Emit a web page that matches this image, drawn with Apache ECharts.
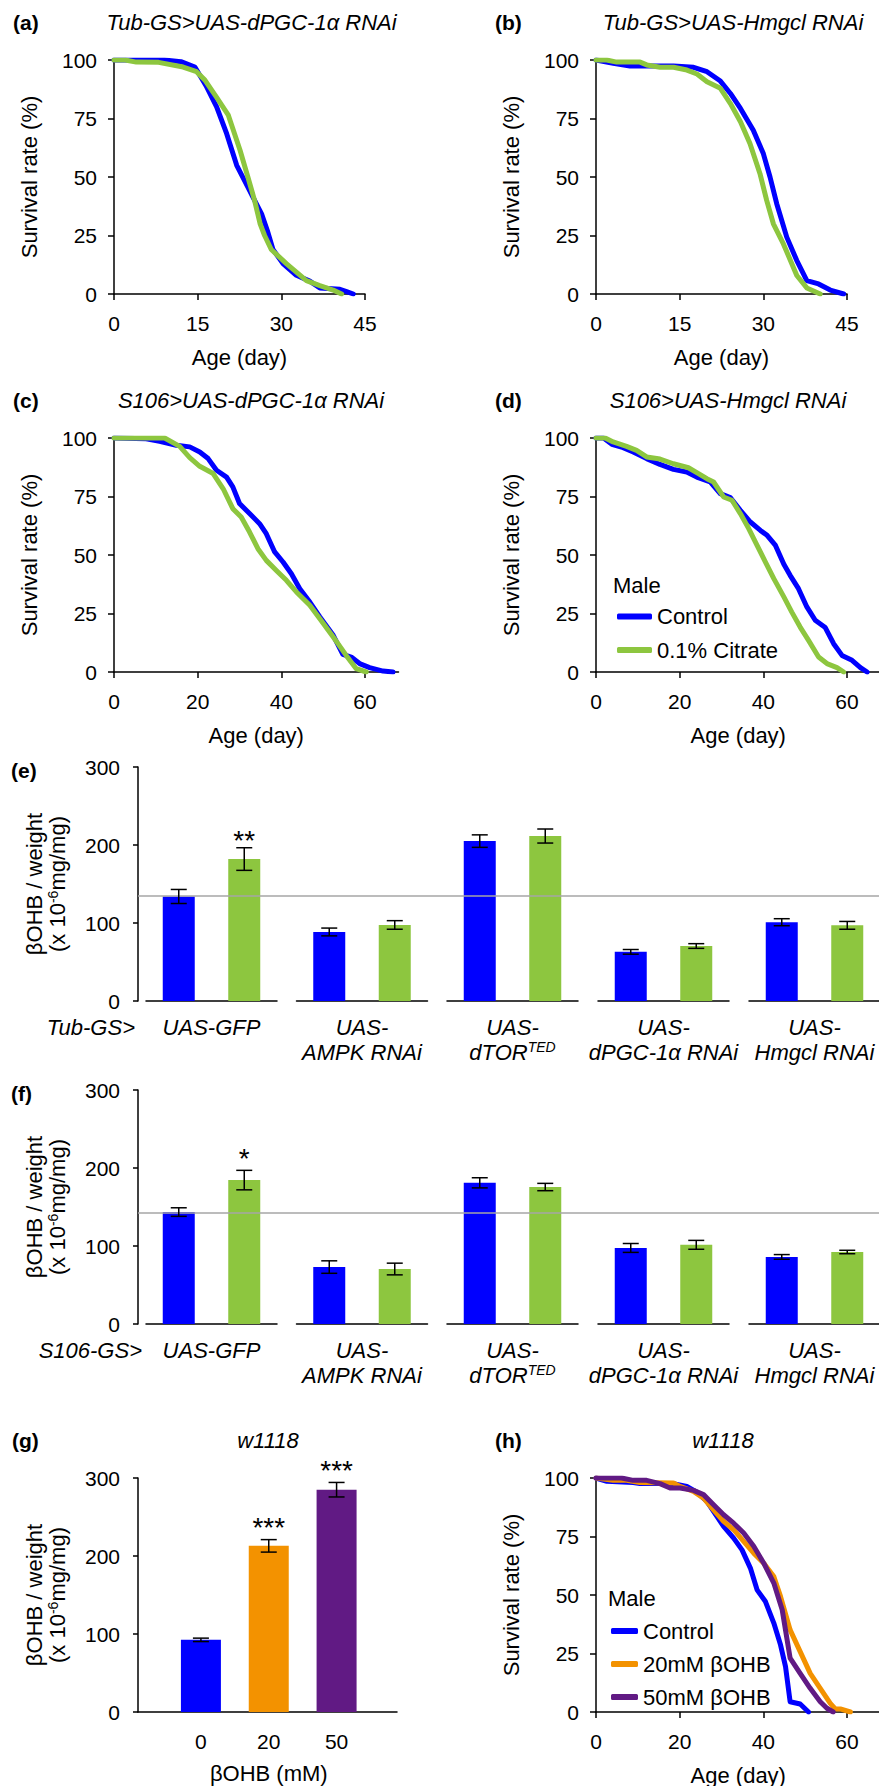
<!DOCTYPE html>
<html><head><meta charset="utf-8">
<script src="https://cdn.jsdelivr.net/npm/echarts@6/dist/echarts.min.js"></script>
<style>html,body{margin:0;padding:0;background:#fff}#c{width:879px;height:1786px}</style>
</head><body><div id="c"></div>
<script>
// ---------------- DATA ----------------
// Survival curves: [day, survival %]
const aControl = [[0,100],[9,100],[12,99.3],[14.5,97],[16.5,89],[18.4,80],[20.2,68.5],[22,55],[23.5,48],[25,41],[26.5,34],[27.5,27],[28.5,19],[30.3,13],[32.7,8],[35.1,5.5],[36.9,2.6],[40.5,2],[41.7,1],[42.9,0]];
const aCitrate = [[0,100],[2,100],[4,99.1],[8,99],[12.4,97],[14.8,95],[16.3,91.4],[18.4,84],[20.5,76.4],[22.6,61.4],[24,50],[25.2,40],[26.2,30],[27,25],[28.2,19],[30.9,13],[34.5,5.7],[36.9,3.6],[39.3,1.7],[40.8,0]];
const bControl = [[0,100],[3.1,98.6],[6.1,97.4],[13.9,97.4],[17.5,96.9],[19.9,95],[22.3,91],[24.1,85.7],[25.9,79.3],[28.2,70],[30,60],[31.2,50],[32.4,38.6],[34.2,24.3],[36,14.3],[37.8,5.7],[39.9,4.3],[42,1.7],[44.4,0]];
const bCitrate = [[0,100],[1.9,100],[3.7,99.1],[7.9,99.1],[9.1,97.9],[11.5,96.9],[13.9,96.9],[16.3,95.7],[18.1,94],[19.9,90.7],[22.3,87.9],[24.1,81.4],[25.9,73.6],[27.6,64.3],[29.4,51.4],[30.6,40],[31.8,30],[33.6,21.4],[36,7.9],[37.8,2.6],[40.2,0]];
const cControl = [[0,100],[7.7,99.7],[10.9,98.6],[14.9,96.9],[18.1,96.2],[20.5,94],[22.5,91.2],[24.5,86.2],[26.9,83.3],[28.4,79.1],[30,72],[32.4,67.7],[34.8,63.4],[36.4,59.1],[38.4,51.3],[40.4,47],[42.4,42],[44.4,35.6],[46.8,29.9],[49.2,23.5],[52.4,15.7],[54.7,7.5],[56.7,6.4],[58.7,3.6],[61.1,1.9],[64.3,0.4],[66.7,0]];
const cCitrate = [[0,100],[12.1,100],[15.7,96.4],[18.1,91.6],[20.5,87.9],[23.7,84.8],[26.1,78.3],[28.4,69.8],[30.4,66.2],[32.4,59.8],[34.4,52.7],[36.4,47.7],[38.8,43.4],[41.2,39.2],[43.6,34.2],[46.8,28.5],[49.2,22.8],[52.4,15],[55.5,7.1],[57.9,1.4],[60.3,0]];
const dControl = [[0,100],[1.8,100],[3.8,97.3],[6.5,95.9],[8.9,94],[12.1,91.2],[15.3,88.7],[18.5,86.6],[21.7,85.5],[24.1,83.3],[27.3,81.2],[29.7,76.2],[32.1,74.5],[34.5,69.1],[36.9,64.1],[39.3,60.5],[40.9,58.4],[42.9,54.1],[44.9,46],[46.4,41.3],[48.4,35.6],[50.4,27.8],[52.4,22.1],[54.8,19],[56.8,12.1],[58.8,7.1],[61.2,5],[63.2,1.9],[64.8,0]];
const dCitrate = [[0,100],[2.2,100],[4.1,98.3],[7.3,96.4],[9.7,94.7],[12.1,91.9],[15.3,91],[18.5,89],[22.1,87.3],[24.5,84.8],[26.5,82.6],[28.1,81.2],[30.5,74.8],[32.5,73.4],[34.5,67.7],[36.5,61.3],[38.5,54.1],[40.5,47],[42.5,39.9],[44.9,32.1],[46.8,25.6],[48.8,19.2],[50.8,13.5],[53.2,6.4],[55.2,3.6],[57.6,1.9],[59.2,0]];
const hControl = [[0,100],[2.6,98.6],[8.9,98.1],[10.5,97.6],[18.5,97.6],[21.7,96.4],[24.1,93.9],[26.5,90],[28.9,83.6],[30.5,79.3],[32.9,74.3],[34.9,69.3],[36.9,61.5],[38.5,52.2],[40.5,47.2],[42.5,38],[44.1,28.7],[45.3,19.4],[46.4,4.4],[48.8,3.4],[50.8,0]];
const h20mM = [[0,100],[4.1,99],[7.3,99],[10.5,98.1],[18.5,97.9],[20.1,96.4],[23.3,94.3],[25.7,91.4],[28.1,86.4],[30.5,81.5],[32.9,77.9],[35.3,72.9],[37.7,67.9],[40.1,63.6],[42.5,57.9],[44.1,49.4],[46.4,35.1],[48.8,25.8],[51.2,16.5],[53.6,10.1],[56,3.7],[57.2,1.3],[58.4,1.3],[60.8,0]];
const h50mM = [[0,100],[6.1,100],[8.9,99],[12.1,99],[15.3,97.6],[17.7,95.7],[20.1,95.7],[23.3,94.7],[25.7,92.9],[28.1,88.6],[30.5,84.3],[32.9,80.7],[35.3,76.5],[37.7,70.8],[40.1,63.6],[42.5,55.1],[44.5,43.7],[46.4,23],[48.8,16.5],[51.2,10.1],[53.6,4.4],[55.2,1.6],[56.7,0]];

// Bar panels (e), (f)
const groupLabels = ['UAS-GFP', 'UAS-\nAMPK RNAi', 'UAS-\ndTOR{sup|TED}', 'UAS-\ndPGC-1α RNAi', 'UAS-\nHmgcl RNAi'];
const eControl = [134, 88.5, 205, 63, 101];
const eControlErr = [9, 5, 8, 3, 4.5];
const eCitrate = [182, 97.5, 211.5, 70.5, 97];
const eCitrateErr = [14.5, 5.5, 9, 3, 5];
const eSig = ['**', '', '', '', ''];
const eRef = 135;
const fControl = [143.5, 73, 181, 97.5, 86];
const fControlErr = [5.5, 8, 6.5, 5.7, 3];
const fCitrate = [184.5, 70.5, 175.6, 101.5, 92.3];
const fCitrateErr = [12.5, 7.5, 4.7, 5.7, 2.2];
const fSig = ['*', '', '', '', ''];
const fRef = 143;
// Panel (g)
const gDoses = ['0', '20', '50'];
const gValues = [92.5, 213, 285];
const gErr = [2.2, 8, 9.3];
const gSig = ['', '***', '***'];

// ---------------- STYLE ----------------
const FONT = '"Liberation Sans", Arial, Helvetica, sans-serif';
const FS = 22, TFS = 21;
const BLUE = '#0000FF', GREEN = '#8DC63F', ORANGE = '#F39200', PURPLE = '#611A84';
const AX = {color:'#000', width:1.5};
const grids = [], xAxes = [], yAxes = [], series = [], graphics = [], legends = [];

function addGrid(g){ grids.push(Object.assign({containLabel:false, outerBoundsMode:'none'}, g)); return grids.length - 1; }
function txt(x, y, text, o){
  o = o || {};
  graphics.push({type:'text', x:x, y:y, silent:true, z:100, style:{text:text, fill:'#000', fontSize:o.size||FS, fontFamily:FONT,
    fontStyle:o.italic?'italic':'normal', fontWeight:o.bold?'bold':'normal', align:o.align||'left', verticalAlign:'middle'}});
}

function survival(p){
  const gi = addGrid({left:p.left, top:p.top, width:p.width, height:234});
  xAxes.push({gridIndex:gi, type:'value', min:0, max:p.xmax, axisLine:{show:true, lineStyle:AX},
    axisTick:{show:true, length:6, lineStyle:AX, customValues:p.ticks},
    axisLabel:{customValues:p.ticks, color:'#000', fontSize:TFS, fontFamily:FONT, margin:19},
    splitLine:{show:false}, name:'Age (day)', nameLocation:'middle', nameGap:63, nameMoveOverlap:false,
    nameTextStyle:{color:'#000', fontSize:FS, fontFamily:FONT, verticalAlign:'middle'}});
  yAxes.push({gridIndex:gi, type:'value', min:0, max:100, interval:25, axisLine:{show:true, lineStyle:AX},
    axisTick:{show:true, length:6, lineStyle:AX},
    axisLabel:{color:'#000', fontSize:TFS, fontFamily:FONT, margin:17},
    splitLine:{show:false}, name:'Survival rate (%)', nameLocation:'middle', nameGap:85, nameMoveOverlap:false,
    nameTextStyle:{color:'#000', fontSize:FS, fontFamily:FONT, verticalAlign:'middle'}});
  p.lines.forEach(l => series.push({type:'line', name:l.name, xAxisIndex:xAxes.length-1, yAxisIndex:yAxes.length-1,
    data:l.data, symbol:'none', showSymbol:false, lineStyle:{color:l.color, width:5, cap:'round', join:'round'},
    itemStyle:{color:l.color}, z:3}));
}

function errSeries(xi, yi, vals, errs, sig, sigOff){
  series.push({type:'custom', xAxisIndex:xi, yAxisIndex:yi, z:6, encode:{x:0, y:1},
    data: vals.map((v,k) => [k, v, errs[k]]),
    renderItem: function(params, api){
      const k = api.value(0), m = api.value(1), e = api.value(2);
      const t = api.coord([k, m + e]), b = api.coord([k, m - e]);
      const hw = 8, st = {stroke:'#000', lineWidth:1.5};
      const ch = [
        {type:'line', shape:{x1:t[0], y1:t[1], x2:b[0], y2:b[1]}, style:st},
        {type:'line', shape:{x1:t[0]-hw, y1:t[1], x2:t[0]+hw, y2:t[1]}, style:st},
        {type:'line', shape:{x1:b[0]-hw, y1:b[1], x2:b[0]+hw, y2:b[1]}, style:st}
      ];
      const s = sig[params.dataIndex];
      if (s) ch.push({type:'text', x:t[0], y:t[1]-sigOff, style:{text:s, fill:'#000', fontSize:28, fontFamily:FONT, align:'center', verticalAlign:'middle'}});
      return {type:'group', children:ch};
    }});
}

const yNameBar = '{a|βOHB / weight}\n{a|(x 10}{s|-6}{a|mg/mg)}';
const yNameRich = {a:{fontSize:FS, fontFamily:FONT, color:'#000', lineHeight:23}, s:{fontSize:14, fontFamily:FONT, color:'#000', verticalAlign:'top', lineHeight:23}};

function barYAxis(gi){
  yAxes.push({gridIndex:gi, type:'value', min:0, max:300, interval:100, axisLine:{show:true, lineStyle:AX},
    axisTick:{show:true, length:5, lineStyle:AX},
    axisLabel:{color:'#000', fontSize:TFS, fontFamily:FONT, margin:18},
    splitLine:{show:false}, name:yNameBar, nameLocation:'middle', nameGap:92, nameMoveOverlap:false,
    nameTextStyle:{verticalAlign:'middle', rich:yNameRich}});
}

function barPanel(p){
  const bg = addGrid({left:138, top:p.top, width:741, height:234});
  xAxes.push({gridIndex:bg, type:'value', min:0, max:1, show:false});
  barYAxis(bg);
  series.push({type:'line', xAxisIndex:xAxes.length-1, yAxisIndex:yAxes.length-1, data:[], z:5,
    markLine:{silent:true, symbol:'none', label:{show:false}, animation:false,
      lineStyle:{color:'#a6a6a6', width:1.5, type:'solid'}, data:[{yAxis:p.ref}]}});
  const lefts = [146, 296.5, 447, 598, 749];
  groupLabels.forEach((g, i) => {
    const gi = addGrid({left:lefts[i], top:p.top, width:131, height:234});
    xAxes.push({gridIndex:gi, type:'category', data:['Control', '0.1% Citrate'], axisLine:{show:true, lineStyle:AX},
      axisTick:{show:false}, axisLabel:{show:false}, name:g, nameLocation:'middle', nameGap:13.5, nameMoveOverlap:false,
      nameTextStyle:{color:'#000', fontSize:FS, fontFamily:FONT, fontStyle:'italic', lineHeight:25, verticalAlign:'top',
        rich:{sup:{fontSize:14, fontFamily:FONT, fontStyle:'italic', color:'#000', verticalAlign:'top', lineHeight:25}}}});
    yAxes.push({gridIndex:gi, type:'value', min:0, max:300, show:false});
    const xi = xAxes.length-1, yi = yAxes.length-1;
    series.push({type:'bar', xAxisIndex:xi, yAxisIndex:yi, barWidth:32, z:2,
      data:[{value:p.ctrl[i], itemStyle:{color:BLUE}}, {value:p.cit[i], itemStyle:{color:GREEN}}]});
    errSeries(xi, yi, [p.ctrl[i], p.cit[i]], [p.ctrlErr[i], p.citErr[i]], ['', p.sig[i]], p.sigOff);
  });
}

// ---------- build panels ----------
survival({left:114, top:60, width:251, xmax:45, ticks:[0,15,30,45], lines:[{name:'Control', data:aControl, color:BLUE},{name:'0.1% Citrate', data:aCitrate, color:GREEN}]});
survival({left:596, top:60, width:251, xmax:45, ticks:[0,15,30,45], lines:[{name:'Control', data:bControl, color:BLUE},{name:'0.1% Citrate', data:bCitrate, color:GREEN}]});
survival({left:114, top:438, width:284.5, xmax:68, ticks:[0,20,40,60], lines:[{name:'Control', data:cControl, color:BLUE},{name:'0.1% Citrate', data:cCitrate, color:GREEN}]});
survival({left:596, top:438, width:284.5, xmax:68, ticks:[0,20,40,60], lines:[{name:'Control', data:dControl, color:BLUE},{name:'0.1% Citrate', data:dCitrate, color:GREEN}]});
survival({left:596, top:1478, width:284.5, xmax:68, ticks:[0,20,40,60], lines:[{name:'Control', data:hControl, color:BLUE},{name:'20mM βOHB', data:h20mM, color:ORANGE},{name:'50mM βOHB', data:h50mM, color:PURPLE}]});

barPanel({top:767, ref:eRef, ctrl:eControl, ctrlErr:eControlErr, cit:eCitrate, citErr:eCitrateErr, sig:eSig, sigOff:7});
barPanel({top:1090, ref:fRef, ctrl:fControl, ctrlErr:fControlErr, cit:fCitrate, citErr:fCitrateErr, sig:fSig, sigOff:12});

// panel g
(function(){
  const bg = addGrid({left:138, top:1478, width:259, height:234});
  xAxes.push({gridIndex:bg, type:'value', min:0, max:1, axisLine:{show:true, lineStyle:AX}, axisTick:{show:false}, axisLabel:{show:false}, splitLine:{show:false}});
  barYAxis(bg);
  const gi = addGrid({left:167, top:1478, width:203.5, height:234});
  xAxes.push({gridIndex:gi, type:'category', data:gDoses, axisLine:{show:false}, axisTick:{show:false},
    axisLabel:{color:'#000', fontSize:TFS, fontFamily:FONT, margin:19},
    name:'βOHB (mM)', nameLocation:'middle', nameGap:61, nameMoveOverlap:false,
    nameTextStyle:{color:'#000', fontSize:FS, fontFamily:FONT, verticalAlign:'middle'}});
  yAxes.push({gridIndex:gi, type:'value', min:0, max:300, show:false});
  const xi = xAxes.length-1, yi = yAxes.length-1;
  const cols = [BLUE, ORANGE, PURPLE];
  series.push({type:'bar', xAxisIndex:xi, yAxisIndex:yi, barWidth:40, z:2, data:gValues.map((v,k)=>({value:v, itemStyle:{color:cols[k]}}))});
  errSeries(xi, yi, gValues, gErr, gSig, 12);
})();

// legends
legends.push({data:['Control','0.1% Citrate'], orient:'vertical', left:612, top:600.5, icon:'roundRect', itemWidth:35, itemHeight:6, itemGap:11.5,
  selectedMode:false, textStyle:{fontSize:FS, color:'#000', fontFamily:FONT}});
legends.push({data:['Control','20mM βOHB','50mM βOHB'], orient:'vertical', left:606, top:1615, icon:'roundRect', itemWidth:27, itemHeight:6, itemGap:11,
  selectedMode:false, textStyle:{fontSize:FS, color:'#000', fontFamily:FONT}});

// texts
txt(13, 22, '(a)', {bold:true, size:21}); txt(251.5, 22, 'Tub-GS>UAS-dPGC-1α RNAi', {italic:true, align:'center'});
txt(495, 22, '(b)', {bold:true, size:21}); txt(733, 22, 'Tub-GS>UAS-Hmgcl RNAi', {italic:true, align:'center'});
txt(13, 400, '(c)', {bold:true, size:21}); txt(251, 400, 'S106>UAS-dPGC-1α RNAi', {italic:true, align:'center'});
txt(495, 400, '(d)', {bold:true, size:21}); txt(728, 400, 'S106>UAS-Hmgcl RNAi', {italic:true, align:'center'});
txt(613, 585, 'Male');
txt(11, 770, '(e)', {bold:true, size:21}); txt(135, 1027, 'Tub-GS>', {italic:true, align:'right'});
txt(11, 1093, '(f)', {bold:true, size:21}); txt(142, 1350, 'S106-GS>', {italic:true, align:'right'});
txt(12, 1440, '(g)', {bold:true, size:21}); txt(268, 1440, 'w1118', {italic:true, align:'center'});
txt(495, 1440, '(h)', {bold:true, size:21}); txt(723, 1440, 'w1118', {italic:true, align:'center'});
txt(608, 1598, 'Male');

const chart = echarts.init(document.getElementById('c'), null, {renderer:'svg', width:879, height:1786});
chart.setOption({animation:false, backgroundColor:'#fff', textStyle:{fontFamily:FONT},
  grid:grids, xAxis:xAxes, yAxis:yAxes, series:series, legend:legends, graphic:graphics});
</script></body></html>
